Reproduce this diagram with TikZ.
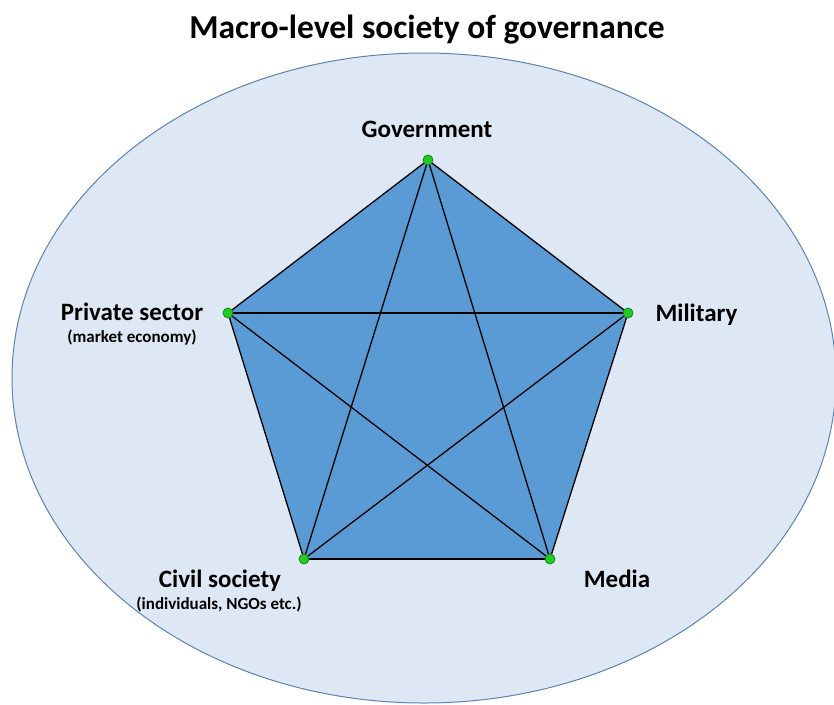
\documentclass[tikz,border=0pt]{standalone}
\usepackage{fontspec}
\setmainfont{Carlito}
\usepackage{tikz}
\usetikzlibrary{arrows}

\definecolor{ringfill}{HTML}{DEE8F4}
\definecolor{ringline}{HTML}{5B84B0}
\definecolor{pentfill}{HTML}{5B9BD5}
\definecolor{dotfill}{HTML}{22CC22}
\definecolor{dotline}{HTML}{118811}

\tikzset{
	actor/.style={circle,inner sep=0pt,minimum size=10pt,fill=dotfill,draw=dotline,line width=0.8pt},
	lab/.style={anchor=base,font=\fontsize{25}{28}\selectfont\bfseries},
	sublab/.style={anchor=base,font=\fontsize{17}{19}\selectfont\bfseries}
}

\begin{document}
\begin{tikzpicture}[x=1pt,y=-1pt]
			\useasboundingbox (0,0) rectangle (834,704);

			% society
			\filldraw[fill=ringfill,draw=ringline,line width=1pt] (424,378) ellipse (412 and 325);

			\node[anchor=base,font=\fontsize{33.5}{36}\selectfont\bfseries] (title) at (427,38) {Macro-level society of governance};

			\coordinate (gov) at (428,160);
			\coordinate (mil) at (628,313);
			\coordinate (med) at (550,559);
			\coordinate (civ) at (304,559);
			\coordinate (pri) at (228,313);

			\fill[pentfill] (gov) -- (mil) -- (med) -- (civ) -- (pri) -- cycle;

			% every actor linked to every other
			\foreach \a/\b in {gov/mil,mil/med,med/civ,civ/pri,pri/gov,gov/med,gov/civ,mil/civ,mil/pri,pri/med}
			\draw[line width=1.3pt] (\a) -- (\b);

			\foreach \a in {gov,mil,med,civ,pri}
			\node[actor] (\a dot) at (\a) {};

			\node[lab] (govlab) at (427,137) {Government};
			\node[lab,anchor=base west] (millab) at (652,321) {Military};
			\node[lab] (medlab) at (617,587) {Media};
			\node[lab] (civlab) at (220,587) {Civil society};
			\node[sublab] (civsub) at (219,609) {(individuals, NGOs etc.)};
			\node[lab] (prilab) at (132,320) {Private sector};
			\node[sublab] (prisub) at (132,342) {(market economy)};
		\end{tikzpicture}
\end{document}
